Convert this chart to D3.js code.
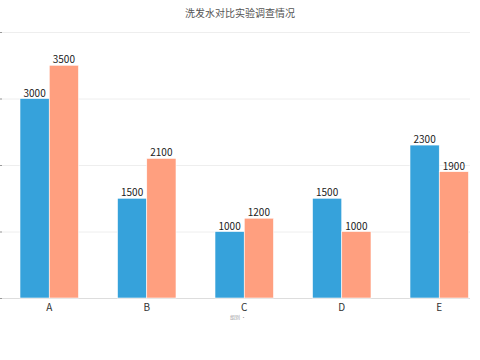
<!DOCTYPE html>
<html><head><meta charset="utf-8">
<script src="https://cdn.jsdelivr.net/npm/d3@7"></script>
<style>body{margin:0;background:#fff;}svg{display:block;font-family:"Noto Sans CJK SC","Noto Sans",sans-serif;}</style>
</head><body>
<svg id="c" width="480" height="360"></svg>
<script>
const title = "洗发水对比实验调查情况";
const categories = ["A","B","C","D","E"];
const seriesNames = ["实验组","对照组"];
const series1 = [3000,1500,1000,1500,2300];
const series2 = [3500,2100,1200,1000,1900];
const yTicks = [0,1000,2000,3000,4000];
const xAxisName = "组别";
const colors = ["#36a2db","#ff9f7f"];

const svg = d3.select("#c");
const y = d3.scaleLinear().domain([0,4000]).range([298,32]);
const x = d3.scaleBand().domain(categories).range([0.5,488]);
const xs = d3.scaleBand().domain([0,1]).range([x.step()*0.2, x.step()*0.8]);

svg.append("text").attr("x",240).attr("y",17).attr("text-anchor","middle")
  .attr("font-size",10).attr("fill","#555").text(title);

svg.append("g").selectAll("line").data(yTicks).join("line")
  .attr("x1",0).attr("x2",470).attr("y1",d=>y(d)+0.5).attr("y2",d=>y(d)+0.5)
  .attr("stroke",d=>d===0?"#ddd":"#eee").attr("stroke-width",1);
svg.append("g").selectAll("line").data(yTicks).join("line")
  .attr("x1",0).attr("x2",2).attr("y1",d=>y(d)+0.5).attr("y2",d=>y(d)+0.5)
  .attr("stroke","#999");

const data = categories.map((c,i)=>({c, v:[series1[i],series2[i]]}));
const g = svg.append("g").selectAll("g").data(data).join("g")
  .attr("transform",d=>`translate(${x(d.c)},0)`);
g.selectAll("rect").data(d=>d.v.map((v,k)=>({v,k}))).join("rect")
  .attr("x",d=>xs(d.k)).attr("width",xs.bandwidth())
  .attr("y",d=>y(d.v)).attr("height",d=>y(0)-y(d.v))
  .attr("fill",d=>colors[d.k]).attr("stroke","#fff").attr("stroke-width",0.6);
g.selectAll("text.v").data(d=>d.v.map((v,k)=>({v,k}))).join("text").attr("class","v")
  .attr("x",d=>xs(d.k)+xs.bandwidth()/2).attr("y",d=>y(d.v)-2)
  .attr("text-anchor","middle").attr("font-size",10).attr("fill","#222").text(d=>d.v);

svg.append("g").selectAll("text").data(categories).join("text")
  .attr("x",d=>x(d)+x.step()/2).attr("y",311).attr("text-anchor","middle")
  .attr("font-size",10).attr("fill","#333").text(d=>d);

svg.append("text").attr("x",238).attr("y",319).attr("text-anchor","middle")
  .attr("font-size",5).attr("fill","#999").text(xAxisName + "  ·");
</script>
</body></html>
